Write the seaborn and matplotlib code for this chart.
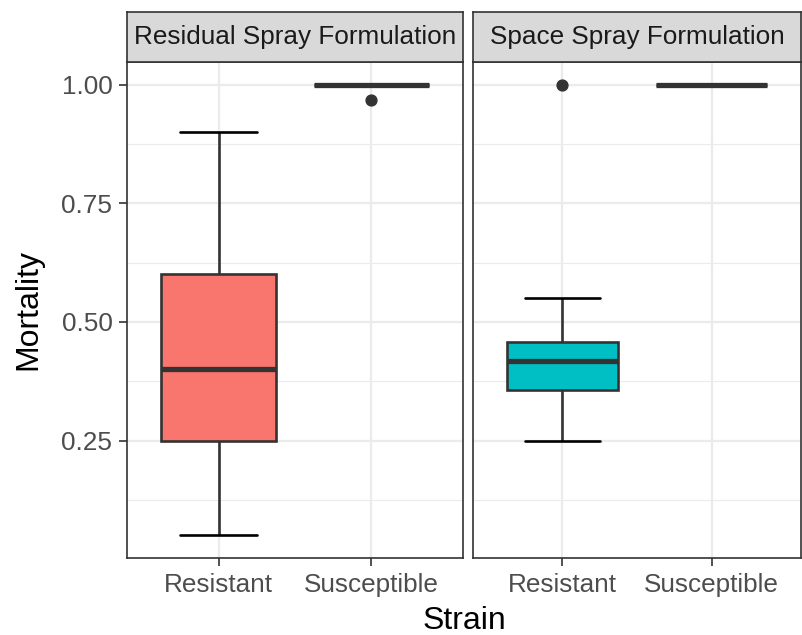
import numpy as np
import pandas as pd
import matplotlib
matplotlib.use("Agg")
import matplotlib.pyplot as plt
import seaborn as sns

# ---- data ----
formulations = ["Residual Spray Formulation", "Space Spray Formulation"]
strains = ["Resistant", "Susceptible"]
residual_resistant = [0.05, 0.25, 0.40, 0.60, 0.90]
residual_susceptible = [0.967, 1.0, 1.0, 1.0, 1.0]
space_resistant = [0.25, 0.30, 0.357, 0.40, 0.417, 0.44, 0.458, 0.55, 1.0]
space_susceptible = [1.0, 1.0, 1.0, 1.0, 1.0]
fill_colors = ["#F8766D", "#00BFC4"]
y_ticks = [0.25, 0.50, 0.75, 1.00]
y_tick_labels = ["0.25", "0.50", "0.75", "1.00"]
y_minor = [0.125, 0.375, 0.625, 0.875]

rows = []
for form, strain, vals in [
    (formulations[0], strains[0], residual_resistant),
    (formulations[0], strains[1], residual_susceptible),
    (formulations[1], strains[0], space_resistant),
    (formulations[1], strains[1], space_susceptible),
]:
    for v in vals:
        rows.append({"Formulation": form, "Strain": strain, "Mortality": v})
df = pd.DataFrame(rows)

sns.set_theme(style="white")
plt.rcParams["font.family"] = ["Liberation Sans", "DejaVu Sans"]

W, H = 802, 635
fig = plt.figure(figsize=(W / 100, H / 100), dpi=100)

def frac(x0, x1, ytop, ybot):
    return [x0 / W, 1 - ybot / H, (x1 - x0) / W, (ybot - ytop) / H]

panels = [(127, 463), (473, 801)]
ptop, pbot, stop = 62, 558, 12
dark = "#333333"
ymin, ymax = 0.0025, 1.0475

for i, (form, (x0, x1)) in enumerate(zip(formulations, panels)):
    ax = fig.add_axes(frac(x0, x1, ptop, pbot))
    sub = df[df["Formulation"] == form]
    sns.boxplot(
        data=sub, x="Strain", y="Mortality", order=strains, color=fill_colors[i],
        saturation=1, width=0.75, linecolor=dark, linewidth=1.9, whis=1.5,
        flierprops=dict(marker="o", markerfacecolor=dark, markeredgecolor=dark,
                        markersize=7.8),
        medianprops=dict(linewidth=3.8, color=dark, solid_capstyle="butt"),
        capprops=dict(color="black", linewidth=1.9),
        ax=ax,
    )
    for cont in ax.containers:
        caps = getattr(cont, "caps", None)
        if caps is None:
            continue
        for cap in caps:
            xd = np.asarray(cap.get_xdata(), dtype=float)
            c = xd.mean()
            cap.set_xdata([c - 0.25, c + 0.25])
    ax.set_xlim(-0.6, 1.6)
    ax.set_ylim(ymin, ymax)
    ax.set_yticks(y_ticks)
    ax.set_yticks(y_minor, minor=True)
    ax.set_axisbelow(True)
    ax.grid(True, which="major", color="#EBEBEB", linewidth=1.6)
    ax.grid(True, which="minor", axis="y", color="#EBEBEB", linewidth=0.8)
    ax.set_xlabel("")
    ax.set_ylabel("")
    ax.tick_params(axis="both", which="major", length=5.5, width=1.2, color=dark,
                   labelcolor="#4D4D4D", labelsize=18.8, pad=5,
                   bottom=True, left=True)
    ax.tick_params(axis="y", which="minor", length=0)
    if i == 0:
        ax.set_yticklabels(y_tick_labels)
    else:
        ax.tick_params(axis="y", which="major", left=False, labelleft=False)
    for s in ax.spines.values():
        s.set_color(dark)
        s.set_linewidth(1.2)
        s.set_visible(True)
    # strip
    sax = fig.add_axes(frac(x0, x1, stop, ptop))
    sax.set_facecolor("#D9D9D9")
    sax.set_xticks([])
    sax.set_yticks([])
    for s in sax.spines.values():
        s.set_color(dark)
        s.set_linewidth(1.2)
        s.set_visible(True)
    sax.text(0.5, 0.5, form, ha="center", va="center", fontsize=18.8,
             color="#1A1A1A", transform=sax.transAxes)

fig.text(464 / W, 1 - 621 / H, "Strain", ha="center", va="center",
         fontsize=23, color="black")
fig.text(28 / W, 1 - 310 / H, "Mortality", ha="center", va="center",
         fontsize=23, color="black", rotation=90)

fig.savefig("out.png", dpi=100, facecolor="white")
